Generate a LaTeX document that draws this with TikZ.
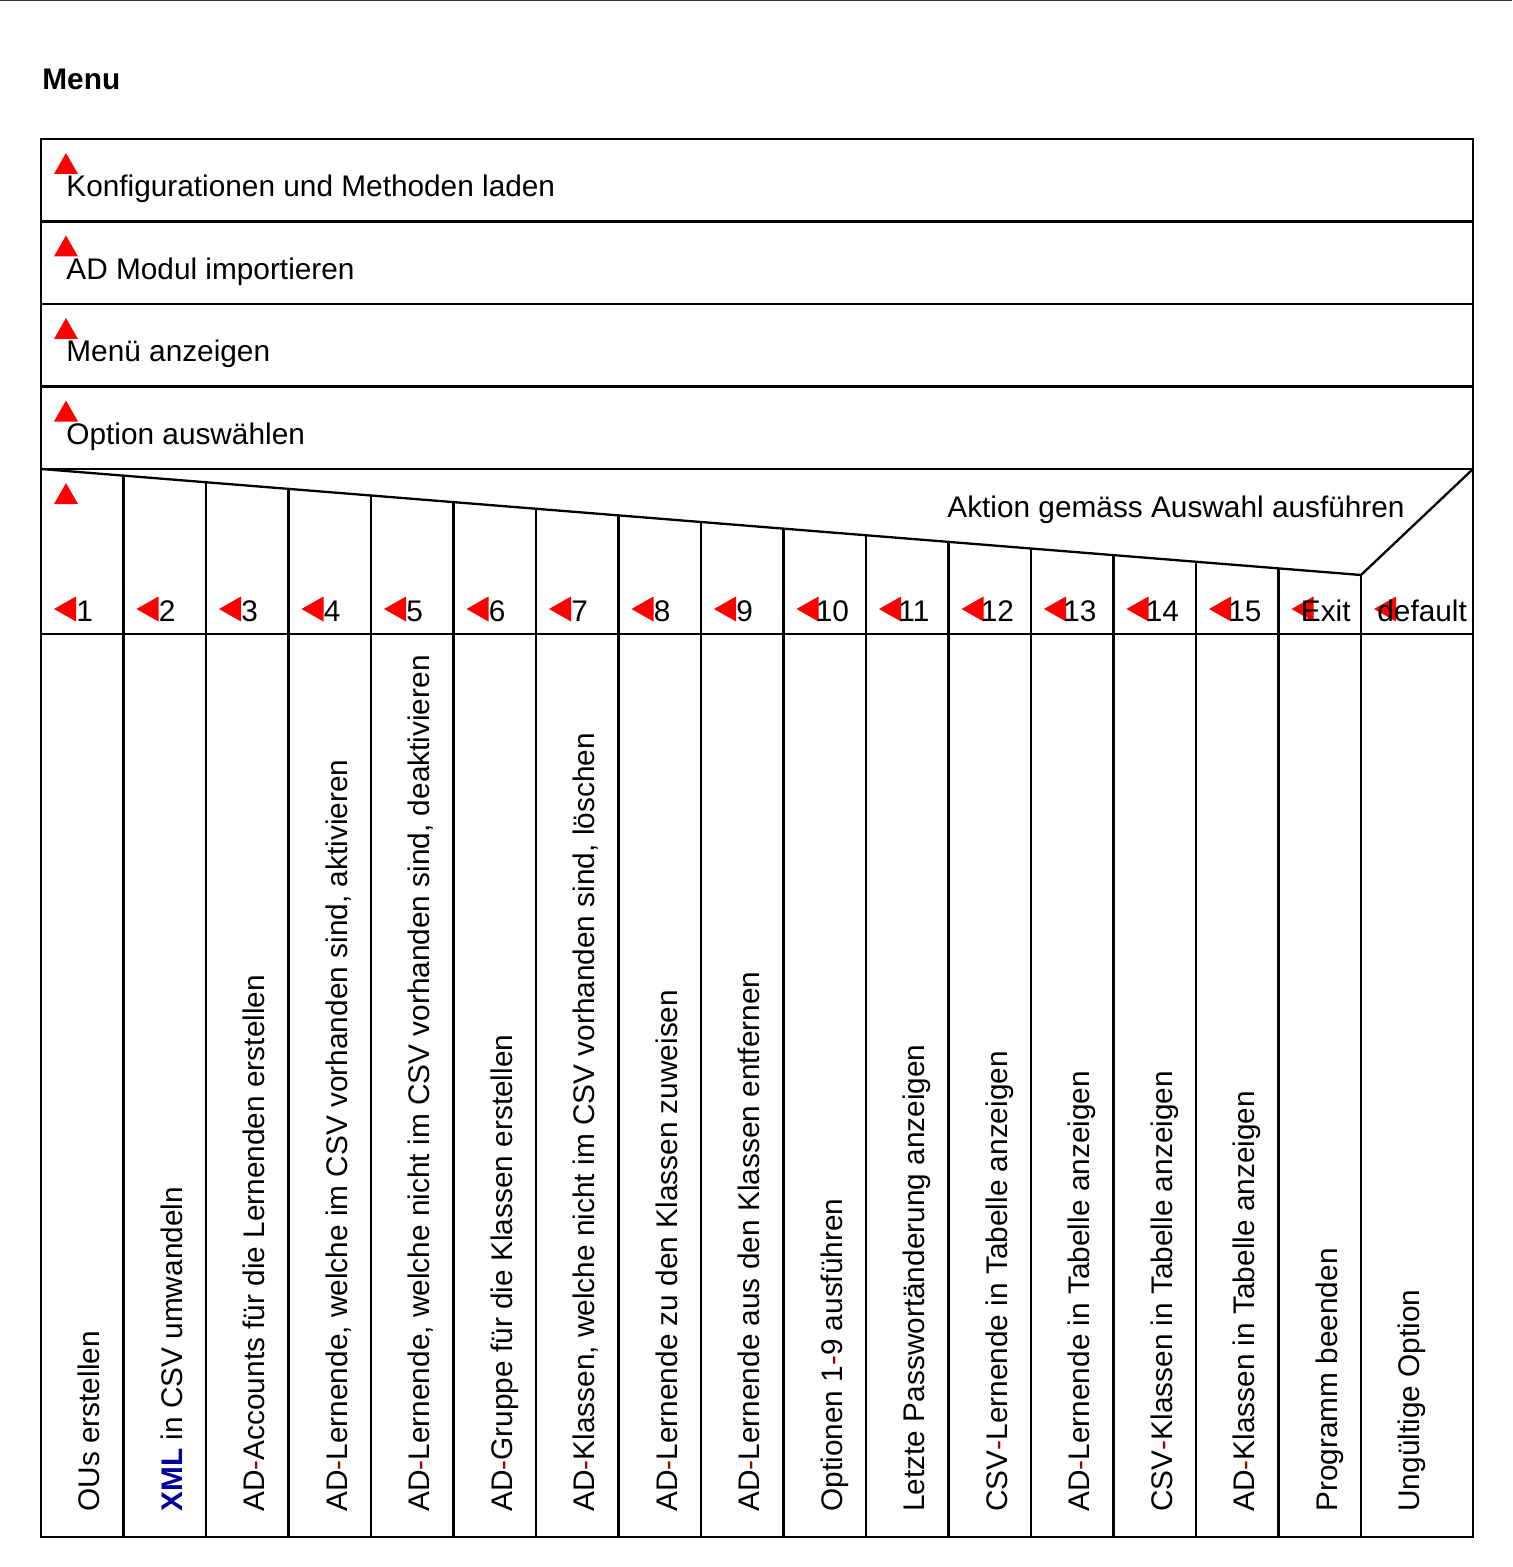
\documentclass[tikz,border=0pt]{standalone}
\usepackage{fontspec}
\setmainfont{Liberation Sans}
\definecolor{hyphred}{HTML}{990000}
\definecolor{xmlblue}{HTML}{000099}
\newcommand{\rh}{\textcolor{hyphred}{-}}

\tikzset{
    frame/.style={line width=1.15pt, black},
    lbl/.style={inner sep=0pt, font=\fontsize{14.9}{17}\selectfont},
    actlbl/.style={lbl, rotate=90, anchor=base west},
}

\begin{document}
\begin{tikzpicture}[x=0.5pt, y=-0.5pt]
    \useasboundingbox (0,0) rectangle (1512,1567);
    \draw[black!80, line width=1pt] (0,0.5) -- (1512,0.5);

    % Title
    \node[lbl, font=\fontsize{14.9}{17}\selectfont\bfseries, anchor=base west] (title) at (42,90) {Menu};

    % Outer frame
    \draw[frame] (41,139) rectangle (1473,1537);

    % Sequence rows
    \foreach \i/\txt in {0/Konfigurationen und Methoden laden, 1/AD Modul importieren, 2/Menü anzeigen, 3/Option auswählen} {
        \pgfmathsetmacro\rtop{139+82.5*\i}
        \draw[frame] (41,\rtop+82.5) -- (1473,\rtop+82.5);
        \fill[red] (54,\rtop+35) -- (66,\rtop+14) -- (78,\rtop+35) -- cycle;
        \node[lbl, anchor=base west] (row\i) at (66,\rtop+58) {\txt};
    }

    % Case header
    \coordinate (caseL) at (41,469);
    \coordinate (caseV) at (1361,575);
    \coordinate (caseR) at (1473,469);
    \draw[frame] (caseL) -- (caseV) -- (caseR);
    \draw[frame] (41,634) -- (1473,634);
    \fill[red] (54,504) -- (66,483) -- (78,504) -- cycle;
    \node[lbl, anchor=base east] (aktion) at (1405,517) {Aktion gemäss Auswahl ausführen};

    % Column dividers (from the diagonal down)
    \foreach \k in {1,...,16} {
        \pgfmathsetmacro\xx{41+82.5*\k}
        \pgfmathsetmacro\yy{469+6.625*\k}
        \draw[frame] (\xx,\yy) -- (\xx,1537);
    }

    % Case labels: column / label / text offset
    \foreach \k/\lab/\dx in {1/1/35, 2/2/35, 3/3/35, 4/4/35, 5/5/35, 6/6/35, 7/7/35, 8/8/35, 9/9/35,
                             10/10/32, 11/11/32, 12/12/32, 13/13/32, 14/14/32, 15/15/32, 16/Exit/22, 17/default/16} {
        \pgfmathsetmacro\cx{41+82.5*(\k-1)}
        \fill[red] (\cx+13,609) -- (\cx+35,596.5) -- (\cx+35,621.5) -- cycle;
        \node[lbl, anchor=base west] (case\k) at (\cx+\dx,621) {\lab};
    }

    % Actions (rotated)
    \foreach \k/\txt in {1/{OUs erstellen},
                         2/{\textbf{\textcolor{xmlblue}{XML}} in CSV umwandeln},
                         3/{AD\rh Accounts für die Lernenden erstellen},
                         4/{AD\rh Lernende, welche im CSV vorhanden sind, aktivieren},
                         5/{AD\rh Lernende, welche nicht im CSV vorhanden sind, deaktivieren},
                         6/{AD\rh Gruppe für die Klassen erstellen},
                         7/{AD\rh Klassen, welche nicht im CSV vorhanden sind, löschen},
                         8/{AD\rh Lernende zu den Klassen zuweisen},
                         9/{AD\rh Lernende aus den Klassen entfernen},
                         10/{Optionen 1\rh 9 ausführen},
                         11/{Letzte Passwortänderung anzeigen},
                         12/{CSV\rh Lernende in Tabelle anzeigen},
                         13/{AD\rh Lernende in Tabelle anzeigen},
                         14/{CSV\rh Klassen in Tabelle anzeigen},
                         15/{AD\rh Klassen in Tabelle anzeigen},
                         16/{Programm beenden},
                         17/{Ungültige Option}} {
        \pgfmathsetmacro\cx{41+82.5*(\k-1)}
        \node[actlbl] (act\k) at (\cx+58.5,1512) {\txt};
    }
\end{tikzpicture}
\end{document}
